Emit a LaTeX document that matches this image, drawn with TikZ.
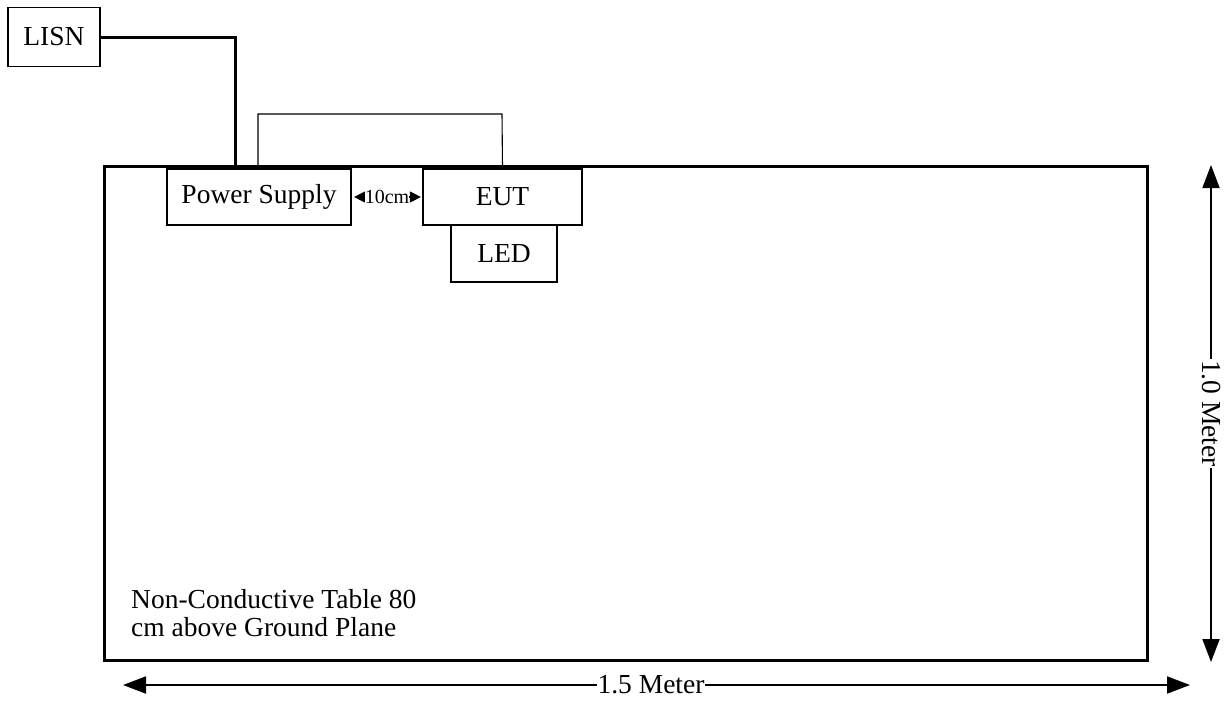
\documentclass[tikz,border=0pt]{standalone}
\usepackage{fontspec}
\setmainfont{Liberation Serif}
\usetikzlibrary{arrows.meta}
\begin{document}
\begin{tikzpicture}
[x=1pt,y=-1pt,font=\fontsize{27.5}{28}\selectfont,
 box/.style={rectangle,draw=black,line width=1.2pt,inner sep=0pt},
 dimline/.style={line width=1.8pt,{Triangle[length=23pt,width=17pt]}-{Triangle[length=23pt,width=17pt]}}]
\def \tw {1043}
\def \th {494}
\useasboundingbox (0,0) rectangle (1228,702);
% table
\node[box,line width=3pt,minimum width=\tw pt,minimum height=\th pt] (table) at (625.5,413) {};
\node[anchor=north west,align=left,inner sep=0pt] (note) at (131,589) {Non-Conductive Table 80\\cm above Ground Plane};
% equipment
\node[box,minimum width=92pt,minimum height=59pt] (lisn) at (54,37) {LISN};
\node[box,minimum width=184pt,minimum height=56pt] (ps) at (259,197) {Power Supply};
\node[box,minimum width=159pt,minimum height=56pt] (eut) at (502.5,197) {EUT};
\node[box,minimum width=106pt,minimum height=57pt] (led) at (504,253.5) {LED};
\coordinate (psin) at (235,169);
\draw[line width=3pt] (lisn.east) -| (psin);
\draw[line width=1.1pt] (258,169) |- (502,114) -- (eut.north);
\draw[line width=1.2pt,{Triangle[length=11pt,width=11pt]}-{Triangle[length=11pt,width=11pt]},shorten <=2.5pt,shorten >=1.5pt] (ps.east) -- node[fill=white,inner sep=0pt,font=\fontsize{20}{20}\selectfont] {10cm} (eut.west);
% dimensions
\coordinate (wl) at (123,685);
\coordinate (wr) at (1190,685);
\coordinate (ht) at (1211,165);
\coordinate (hb) at (1211,662);
\draw[dimline] (wl) -- node[fill=white,inner sep=1pt,xshift=-5.5pt] {1.5 Meter} (wr);
\draw[dimline] (ht) -- node[fill=white,inner sep=1pt,rotate=-90] {1.0 Meter} (hb);
\end{tikzpicture}
\end{document}
